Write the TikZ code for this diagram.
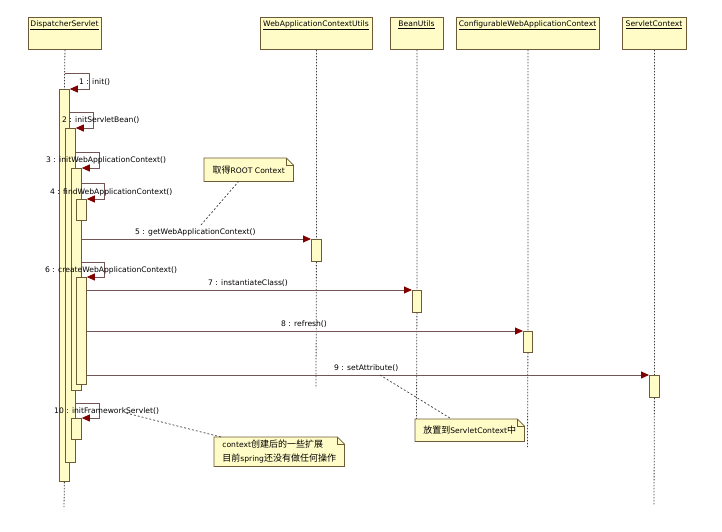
\documentclass[tikz,border=0pt]{standalone}
\usepackage{fontspec}
\setmainfont{DejaVu Sans}
\newfontfamily\cjk{Noto Sans CJK SC}
\usetikzlibrary{arrows.meta,backgrounds}
\definecolor{barfill}{RGB}{255,252,200}
\definecolor{bord}{RGB}{110,90,55}
\definecolor{msgline}{RGB}{115,85,85}
\definecolor{arrowred}{RGB}{128,0,0}
\definecolor{lifec}{RGB}{60,60,60}
\begin{document}
\begin{tikzpicture}[x=1pt,y=-1pt,
  font=\fontsize{7.6}{9}\selectfont,
  hdr/.style={draw=bord,fill=barfill,line width=0.9pt,minimum height=32pt,inner sep=0pt,anchor=north west},
  hdrtxt/.style={inner sep=0pt,anchor=center},
  actbar/.style={draw=bord,fill=barfill,line width=0.8pt,minimum width=10pt,inner sep=0pt,anchor=north west},
  lifeline/.style={draw=lifec,line width=0.8pt,dash pattern=on 1.5pt off 1.5pt},
  msg/.style={draw=msgline,line width=0.9pt,-{Triangle[length=8pt,width=7pt,color=arrowred]}},
  lbl/.style={inner sep=0pt,anchor=west},
  notebox/.style={inner sep=0pt,minimum height=22pt,anchor=north west,align=left,font=\fontsize{7.6}{14}\selectfont},
  notebord/.style={draw=bord,fill=barfill,line width=0.8pt},
  notelink/.style={draw=lifec,line width=0.7pt,dash pattern=on 2pt off 2pt}
]
\useasboundingbox (0,0) rectangle (722,531);

% headers
\node[hdr,minimum width=73pt] (ds) at (28,17) {};
\node[hdrtxt] (dst) at (64.5,25) {\underline{DispatcherServlet}};
\node[hdr,minimum width=112pt] (wacu) at (260,17) {};
\node[hdrtxt] (wacut) at (316,25) {\underline{WebApplicationContextUtils}};
\node[hdr,minimum width=53pt] (bu) at (390,17) {};
\node[hdrtxt] (but) at (416.5,25) {\underline{BeanUtils}};
\node[hdr,minimum width=143pt] (cwac) at (456,17) {};
\node[hdrtxt] (cwact) at (527.5,25) {\underline{ConfigurableWebApplicationContext}};
\node[hdr,minimum width=64pt] (sc) at (622,17) {};
\node[hdrtxt] (sct) at (654,25) {\underline{ServletContext}};

% activation bars
\node[actbar,minimum height=392pt] (b1) at (59,89) {};
\node[actbar,minimum height=334pt] (b2) at (65,128) {};
\node[actbar,minimum height=222pt] (b3) at (71,168) {};
\node[actbar,minimum height=21pt] (b4) at (76,199) {};
\node[actbar,minimum height=107pt] (b6) at (76,277) {};
\node[actbar,minimum height=21pt] (b10) at (71,418) {};
\node[actbar,minimum height=22pt] (b5) at (311,239) {};
\node[actbar,minimum height=22pt,minimum width=9pt] (b7) at (412,290) {};
\node[actbar,minimum height=21pt,minimum width=9pt] (b8) at (523,331) {};
\node[actbar,minimum height=22pt] (b9) at (649,375) {};

% lifeline ends
\coordinate (dsend) at (64,507);
\coordinate (wacuend) at (316,388);
\coordinate (buend) at (416.5,419);
\coordinate (cwacend) at (527.5,447);
\coordinate (scend) at (654,505);

\begin{scope}[on background layer]
\draw[lifeline] (ds.south) -- (b1.north);
\draw[lifeline] (b1.south) -- (dsend);
\draw[lifeline] (wacu.south) -- (b5.north);
\draw[lifeline] (b5.south) -- (wacuend);
\draw[lifeline] (bu.south) -- (b7.north);
\draw[lifeline] (b7.south) -- (buend);
\draw[lifeline] (cwac.south) -- (b8.north);
\draw[lifeline] (b8.south) -- (cwacend);
\draw[lifeline] (sc.south) -- (b9.north);
\draw[lifeline] (b9.south) -- (scend);
\end{scope}

% self calls
\coordinate (l1a) at (65,73);
\coordinate (l1) at (89,73);
\coordinate (l2) at (93,112);
\coordinate (l3) at (99,152);
\coordinate (l4) at (104,183);
\coordinate (l6) at (104,262);
\coordinate (l10) at (99,403);
\draw[msg] (l1a) -- (l1) |- (b1.north east);
\draw[msg] (b1.east |- l2) -- (l2) |- (b2.north east);
\draw[msg] (b2.east |- l3) -- (l3) |- (b3.north east);
\draw[msg] (b3.east |- l4) -- (l4) |- (b4.north east);
\draw[msg] (b3.east |- l6) -- (l6) |- (b6.north east);
\draw[msg] (b2.east |- l10) -- (l10) |- (b10.north east);

% messages
\draw[msg] (b3.east |- b5.north west) -- (b5.north west);
\draw[msg] (b6.east |- b7.north west) -- (b7.north west);
\draw[msg] (b6.east |- b8.north west) -- (b8.north west);
\draw[msg] (b6.east |- b9.north west) -- (b9.north west);

% labels
\node[lbl] (t1) at (79,82) {1 : init()};
\node[lbl] (t2) at (62,120) {2 : initServletBean()};
\node[lbl] (t3) at (46,160) {3 : initWebApplicationContext()};
\node[lbl] (t4) at (50,192) {4 : findWebApplicationContext()};
\node[lbl] (t5) at (135,232) {5 : getWebApplicationContext()};
\node[lbl] (t6) at (45,270) {6 : createWebApplicationContext()};
\node[lbl] (t7) at (208,283) {7 : instantiateClass()};
\node[lbl] (t8) at (281,324) {8 : refresh()};
\node[lbl] (t9) at (334,368) {9 : setAttribute()};
\node[lbl] (t10) at (54,411) {10 : initFrameworkServlet()};

% notes
\node[notebox,minimum width=89pt,minimum height=23pt] (n1) at (204,158) {{\cjk\fontsize{9}{14}\selectfont 取得}ROOT Context};
\node[notebox,minimum width=109pt] (n2) at (415,419) {{\cjk\fontsize{9}{14}\selectfont 放置到}ServletContext{\cjk\fontsize{9}{14}\selectfont 中}};
\node[notebox,minimum width=130pt,minimum height=29pt] (n3) at (214,437) {context{\cjk\fontsize{9}{14}\selectfont 创建后的一些扩展}\\{\cjk\fontsize{9}{14}\selectfont 目前}spring{\cjk\fontsize{9}{14}\selectfont 还没有做任何操作}};
\begin{scope}[on background layer]
\foreach \n in {n1,n2,n3}{
  \filldraw[notebord] (\n.south west) -- (\n.north west) -- ([xshift=-7pt]\n.north east) -- ([yshift=-7pt]\n.north east) -- (\n.south east) -- cycle;
  \draw[draw=bord,line width=0.6pt] ([xshift=-7pt]\n.north east) -- ([xshift=-7pt,yshift=-7pt]\n.north east) -- ([yshift=-7pt]\n.north east);
}
\end{scope}

% note links
\coordinate (c1) at (201,225);
\coordinate (c2) at (380,375);
\coordinate (c3) at (126,413);
\draw[notelink] (c1) -- (n1);
\draw[notelink] (c2) -- (n2);
\draw[notelink] (c3) -- (n3);
\end{tikzpicture}
\end{document}
